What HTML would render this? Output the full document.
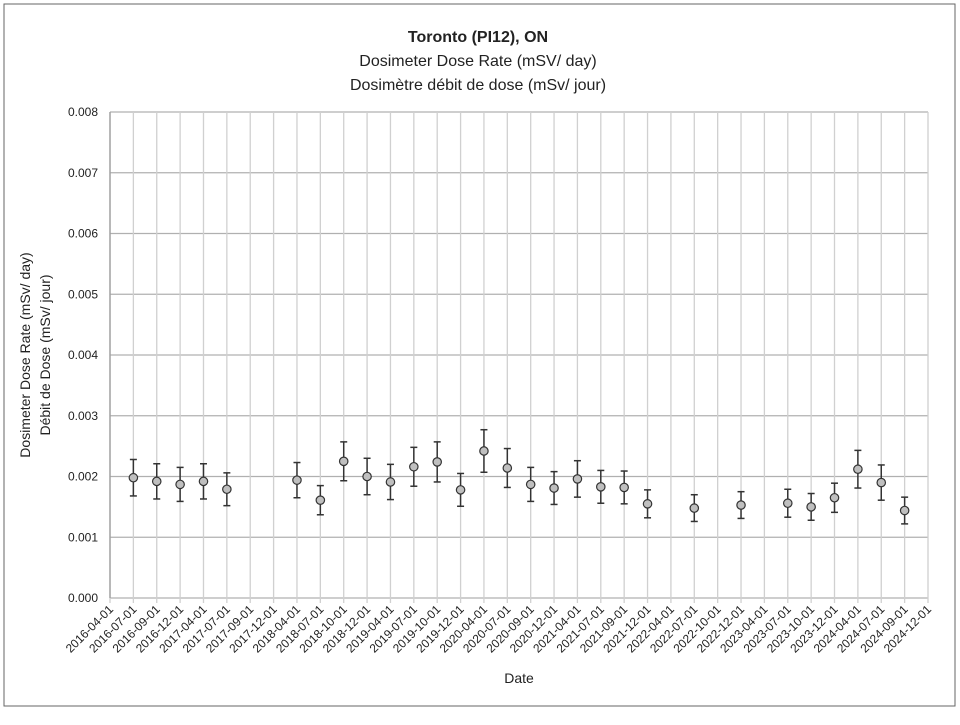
<!DOCTYPE html>
<html><head><meta charset="utf-8"><style>
body{margin:0;background:#fff;font-family:"Liberation Sans",Arial,sans-serif}
svg text{font-family:"Liberation Sans",Arial,sans-serif;fill:#222}
</style></head><body>
<svg id="chart" width="960" height="720" xmlns="http://www.w3.org/2000/svg">
<rect x="4" y="4" width="951" height="702" fill="#fff" stroke="#666" stroke-width="1"/>
<text x="478" y="42" text-anchor="middle" font-size="16" font-weight="bold">Toronto (PI12), ON</text>
<text x="478" y="66" text-anchor="middle" font-size="16">Dosimeter Dose Rate (mSV/ day)</text>
<text x="478" y="90" text-anchor="middle" font-size="16">Dosimètre débit de dose (mSv/ jour)</text>
<g id="grid"></g><g id="axes"></g><g id="marks"></g>
<text transform="translate(30,355) rotate(-90)" text-anchor="middle" font-size="14">Dosimeter Dose Rate (mSv/ day)</text>
<text transform="translate(50,355) rotate(-90)" text-anchor="middle" font-size="14">Débit de Dose (mSv/ jour)</text>
<text x="519" y="683" text-anchor="middle" font-size="14">Date</text>
</svg>
<script>
const categories=["2016-04-01","2016-07-01","2016-09-01","2016-12-01","2017-04-01","2017-07-01","2017-09-01","2017-12-01","2018-04-01","2018-07-01","2018-10-01","2018-12-01","2019-04-01","2019-07-01","2019-10-01","2019-12-01","2020-04-01","2020-07-01","2020-09-01","2020-12-01","2021-04-01","2021-07-01","2021-09-01","2021-12-01","2022-04-01","2022-07-01","2022-10-01","2022-12-01","2023-04-01","2023-07-01","2023-10-01","2023-12-01","2024-04-01","2024-07-01","2024-09-01","2024-12-01"];
const values=[null,0.00198,0.00192,0.00187,0.00192,0.00179,null,null,0.00194,0.00161,0.00225,0.00200,0.00191,0.00216,0.00224,0.00178,0.00242,0.00214,0.00187,0.00181,0.00196,0.00183,0.00182,0.00155,null,0.00148,null,0.00153,null,0.00156,0.00150,0.00165,0.00212,0.00190,0.00144,null];
const errors=[0,0.00030,0.00029,0.00028,0.00029,0.00027,0,0,0.00029,0.00024,0.00032,0.00030,0.00029,0.00032,0.00033,0.00027,0.00035,0.00032,0.00028,0.00027,0.00030,0.00027,0.00027,0.00023,0,0.00022,0,0.00022,0,0.00023,0.00022,0.00024,0.00031,0.00029,0.00022,0];
const yTicks=[0,0.001,0.002,0.003,0.004,0.005,0.006,0.007,0.008];
const NS="http://www.w3.org/2000/svg";
const L=110,R=928,T=112,B=598;
const xs=i=>L+i*(R-L)/(categories.length-1);
const ys=v=>B-v/0.008*(B-T);
function mk(p,tag,a){const e=document.createElementNS(NS,tag);for(const k in a)e.setAttribute(k,a[k]);p.appendChild(e);return e;}
const grid=document.getElementById('grid'),axes=document.getElementById('axes'),marks=document.getElementById('marks');
yTicks.forEach(t=>{
 const l=mk(grid,'line',{x1:L,x2:R,y1:ys(t),y2:ys(t),stroke:'#b0b0b0','stroke-width':1.3});
 
 
 const tx=mk(axes,'text',{x:L-12,y:ys(t)+4,'text-anchor':'end','font-size':12});
 tx.textContent=t.toFixed(3);
 
 
});
categories.forEach((c,i)=>{
 const x=xs(i);
 const l=mk(grid,'line',{x1:x,x2:x,y1:T,y2:B+5,stroke:'#d0d0d0','stroke-width':1.3});
 
 
 const tx=mk(axes,'text',{x:x+4,y:B+12,'text-anchor':'end','font-size':12,transform:`rotate(-45 ${x+4} ${B+12})`});
 tx.textContent=c;
 
 
});
const ax=mk(axes,'line',{x1:L,x2:L,y1:T,y2:B,stroke:'#999','stroke-width':1.3});


values.forEach((v,i)=>{
 if(v==null)return;
 const x=xs(i),e=errors[i];
 const g=mk(marks,'g',{});
 
 
 mk(g,'line',{x1:x,x2:x,y1:ys(v+e),y2:ys(v-e),stroke:'#333','stroke-width':1.5});
 mk(g,'line',{x1:x-3.5,x2:x+3.5,y1:ys(v+e),y2:ys(v+e),stroke:'#333','stroke-width':1.5});
 mk(g,'line',{x1:x-3.5,x2:x+3.5,y1:ys(v-e),y2:ys(v-e),stroke:'#333','stroke-width':1.5});
 mk(g,'circle',{cx:x,cy:ys(v),r:4.2,fill:'#bfbfbf',stroke:'#333','stroke-width':1.2});
});
</script>
</body></html>
